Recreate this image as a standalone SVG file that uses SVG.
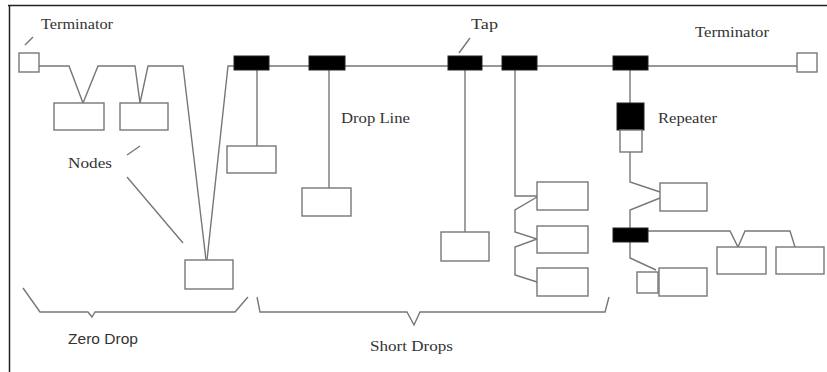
<svg xmlns="http://www.w3.org/2000/svg" width="827" height="372" viewBox="0 0 827 372">
<style>
.ln{fill:none;stroke:#777;stroke-width:1.4;stroke-linejoin:miter}
.box{fill:#fff;stroke:#777;stroke-width:1.4}
.tap{fill:#000;stroke:#222;stroke-width:1}
.t{font-family:"Liberation Serif","Times New Roman",serif;font-size:14px;fill:#333}
.s{font-family:"Liberation Sans",Arial,sans-serif;font-size:15px;fill:#333}
</style>
<rect x="0" y="0" width="827" height="372" fill="#fff"/>
<path d="M8,5.5 H827 M9.5,5 V372" fill="none" stroke="#222" stroke-width="1.5"/>
<g id="connectors" class="ln">
<path d="M39,66 H69 L83,103 L98,66 H135 L140,103 L148,66 H183 L206,260"/>
<path d="M207,260 L228,66 H797"/>
<path d="M257,70 V146"/>
<path d="M329,70 V188"/>
<path d="M465,70 V232"/>
<path d="M515,70 V196 H537 M537,197 L515,210 V232 L537,239 L515,247 V275 L537,282"/>
<path d="M630,70 V103 M630,152 V182 L660,192 M660,198 L630,210 V228 M630,242 V258 L656,270"/>
<path d="M648,231 H730 L738,247 L745,231 H790 L795,247"/>
<path d="M25,45 L33,37"/>
<path d="M459,53 L470,38"/>
<path d="M127,155 L140,146 M127,177 L183,243"/>
<path d="M23,288 L40,312 H88 L92,317 L95,312 H235 L248,297"/>
<path d="M257,297 L260,312 H407 L414,325 L420,312 H605 L609,297"/>
</g>
<g id="terminator-left"><rect class="box" x="19" y="53" width="20" height="19"/><text class="t" x="41" y="29" textLength="72" lengthAdjust="spacingAndGlyphs">Terminator</text></g>
<g id="terminator-right"><rect class="box" x="797" y="53" width="20" height="19"/><text class="t" x="695" y="37" textLength="74" lengthAdjust="spacingAndGlyphs">Terminator</text></g>
<g id="node-z1"><rect class="box" x="54" y="103" width="50" height="27"/></g>
<g id="node-z2"><rect class="box" x="120" y="103" width="48" height="27"/></g>
<g id="node-z3"><rect class="box" x="185" y="260" width="48" height="29"/></g>
<g id="nodes-label"><text class="t" x="68" y="168" textLength="44" lengthAdjust="spacingAndGlyphs">Nodes</text></g>
<g id="tap1"><rect class="tap" x="234" y="56" width="35" height="14"/></g>
<g id="node-t1"><rect class="box" x="227" y="146" width="49" height="27"/></g>
<g id="tap2"><rect class="tap" x="309" y="56" width="36" height="14"/></g>
<g id="node-t2"><rect class="box" x="302" y="188" width="49" height="28"/></g>
<g id="drop-line-label"><text class="t" x="341" y="123" textLength="69" lengthAdjust="spacingAndGlyphs">Drop Line</text></g>
<g id="tap3"><rect class="tap" x="448" y="56" width="34" height="14"/><text class="t" x="471" y="29" textLength="27" lengthAdjust="spacingAndGlyphs">Tap</text></g>
<g id="node-t3"><rect class="box" x="441" y="232" width="48" height="29"/></g>
<g id="tap4"><rect class="tap" x="502" y="56" width="35" height="14"/></g>
<g id="node-t4a"><rect class="box" x="537" y="182" width="51" height="28"/></g>
<g id="node-t4b"><rect class="box" x="537" y="226" width="51" height="27"/></g>
<g id="node-t4c"><rect class="box" x="537" y="268" width="51" height="28"/></g>
<g id="tap5"><rect class="tap" x="613" y="56" width="35" height="14"/></g>
<g id="repeater"><rect class="tap" x="617" y="103" width="27" height="27"/><rect class="box" x="620" y="130" width="22" height="22"/><text class="t" x="658" y="123" textLength="59" lengthAdjust="spacingAndGlyphs">Repeater</text></g>
<g id="node-r1"><rect class="box" x="660" y="183" width="47" height="28"/></g>
<g id="tap6"><rect class="tap" x="613" y="228" width="35" height="14"/></g>
<g id="node-r2"><rect class="box" x="717" y="247" width="49" height="27"/></g>
<g id="node-r3"><rect class="box" x="776" y="247" width="48" height="27"/></g>
<g id="terminator-small"><rect class="box" x="637" y="272" width="21" height="21"/></g>
<g id="node-r4"><rect class="box" x="659" y="268" width="48" height="28"/></g>
<g id="zero-drop"><text class="s" x="68" y="344" textLength="70" lengthAdjust="spacingAndGlyphs">Zero Drop</text></g>
<g id="short-drops"><text class="t" x="370" y="351" textLength="83" lengthAdjust="spacingAndGlyphs">Short Drops</text></g>
</svg>
